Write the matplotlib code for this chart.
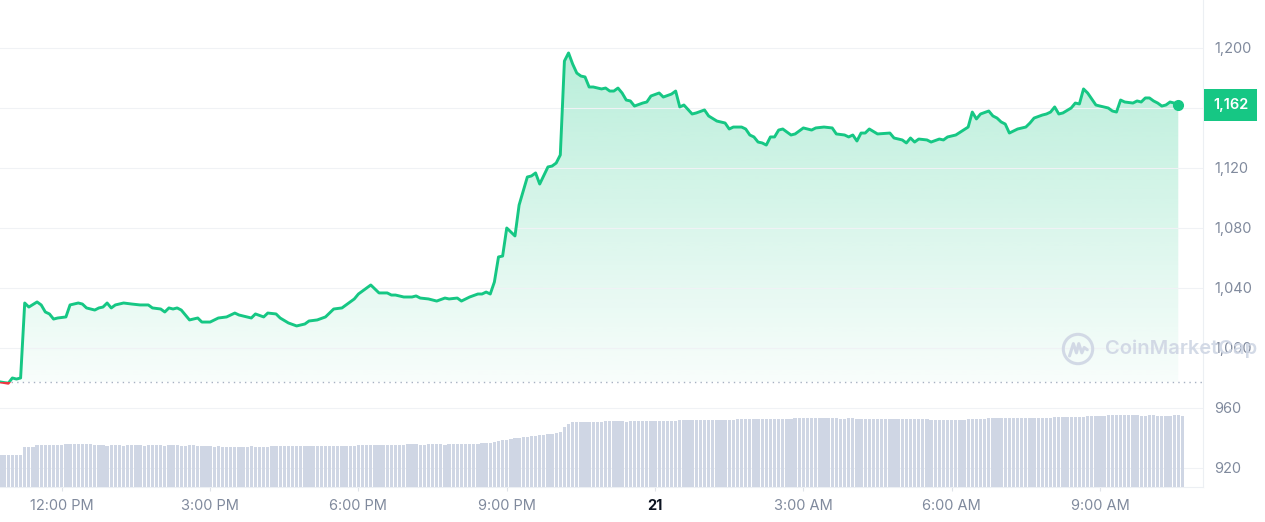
import numpy as np
import pandas as pd
import matplotlib
matplotlib.use("Agg")
import matplotlib.pyplot as plt
import matplotlib.dates as mdates
import matplotlib.transforms as mtransforms
from matplotlib.patches import Rectangle, Circle
from matplotlib.colors import to_rgb

plt.rcParams['font.family'] = ['Inter', 'DejaVu Sans']

GREEN = '#16c784'
RED = '#ea3943'
LABEL = '#808a9d'
GRID = '#f0f2f5'
VOLC = '#cfd6e4'

START_DAY = "2022-06-20"

# price samples (clock time, price)
price_clock = [
    "10:45", "10:55", "11:00", "11:05", "11:10", "11:15", "11:20", "11:30", "11:35", "11:40",
    "11:45", "11:50", "11:55", "12:05", "12:10", "12:20", "12:25", "12:30", "12:40", "12:45",
    "12:50", "12:55", "13:00", "13:05", "13:15", "13:25", "13:35", "13:45", "13:50", "14:00",
    "14:05", "14:10", "14:15", "14:20", "14:25", "14:35", "14:45", "14:50", "15:00", "15:10",
    "15:20", "15:30", "15:35", "15:45", "15:50", "15:55", "16:05", "16:10", "16:20", "16:25",
    "16:35", "16:45", "16:55", "17:00", "17:10", "17:20", "17:30", "17:40", "17:45", "17:55",
    "18:00", "18:15", "18:25", "18:35", "18:40", "18:45", "18:55", "19:05", "19:10", "19:15",
    "19:25", "19:35", "19:45", "19:50", "20:00", "20:05", "20:15", "20:25", "20:30", "20:35",
    "20:40", "20:45", "20:50", "20:55", "21:00", "21:10", "21:15", "21:25", "21:30", "21:35",
    "21:40", "21:50", "21:55", "22:00", "22:05", "22:10", "22:15", "22:20", "22:25", "22:30",
    "22:35", "22:40", "22:45", "22:55", "23:00", "23:05", "23:10", "23:15", "23:20", "23:25",
    "23:30", "23:35", "23:45", "23:50", "23:55", "00:05", "00:10", "00:20", "00:25", "00:30",
    "00:35", "00:45", "00:50", "01:00", "01:05", "01:15", "01:25", "01:30", "01:35", "01:45",
    "01:50", "01:55", "02:00", "02:05", "02:10", "02:15", "02:20", "02:25", "02:30", "02:35",
    "02:45", "02:50", "03:00", "03:10", "03:15", "03:25", "03:35", "03:40", "03:50", "03:55",
    "04:00", "04:05", "04:10", "04:15", "04:20", "04:30", "04:45", "04:50", "05:00", "05:05",
    "05:10", "05:15", "05:20", "05:30", "05:35", "05:45", "05:50", "05:55", "06:05", "06:20",
    "06:25", "06:30", "06:35", "06:45", "06:50", "06:55", "07:00", "07:05", "07:10", "07:20",
    "07:30", "07:35", "07:40", "07:50", "07:55", "08:00", "08:05", "08:10", "08:15", "08:25",
    "08:30", "08:35", "08:40", "08:45", "08:55", "09:00", "09:10", "09:15", "09:20", "09:25",
    "09:30", "09:40", "09:45", "09:50", "09:55", "10:00", "10:05", "10:10", "10:15", "10:20",
    "10:25", "10:30", "10:35",
]
price_values = [
    977.4, 976.5, 980.0, 979.3, 980.0, 1030.0, 1027.3, 1030.7, 1028.7, 1024.0,
    1022.7, 1019.3, 1020.0, 1020.7, 1028.7, 1030.0, 1029.3, 1026.7, 1025.3, 1026.7,
    1027.3, 1030.0, 1026.7, 1028.7, 1030.0, 1029.3, 1028.7, 1028.7, 1026.7, 1026.0,
    1024.0, 1026.7, 1026.0, 1026.7, 1025.3, 1018.7, 1020.0, 1017.3, 1017.3, 1020.0,
    1020.7, 1023.3, 1022.0, 1020.7, 1020.0, 1022.7, 1020.7, 1023.3, 1022.7, 1020.0,
    1016.7, 1014.7, 1016.0, 1018.0, 1018.7, 1020.7, 1026.0, 1026.7, 1028.7, 1032.7,
    1036.0, 1042.0, 1036.7, 1036.7, 1035.3, 1035.3, 1034.0, 1034.0, 1034.7, 1033.3,
    1032.7, 1031.3, 1033.3, 1032.7, 1033.3, 1031.3, 1034.0, 1036.0, 1036.0, 1037.3,
    1036.0, 1044.0, 1060.7, 1061.3, 1080.0, 1074.7, 1095.3, 1114.0, 1114.7, 1116.7,
    1109.3, 1120.7, 1121.3, 1123.3, 1128.7, 1191.3, 1196.7, 1189.3, 1183.3, 1181.3,
    1180.7, 1174.0, 1174.0, 1172.7, 1173.3, 1171.3, 1171.3, 1173.3, 1170.0, 1165.3,
    1164.7, 1161.3, 1163.3, 1164.0, 1168.0, 1170.0, 1167.3, 1169.3, 1171.3, 1160.7,
    1162.0, 1156.0, 1156.7, 1158.7, 1154.7, 1151.3, 1150.0, 1146.0, 1147.3, 1147.3,
    1146.0, 1142.0, 1140.7, 1137.3, 1136.7, 1135.3, 1140.7, 1140.7, 1145.3, 1146.0,
    1142.0, 1142.7, 1146.7, 1145.3, 1146.7, 1147.3, 1146.7, 1142.7, 1142.0, 1140.7,
    1142.0, 1138.0, 1143.3, 1143.3, 1146.0, 1142.7, 1143.3, 1140.0, 1138.7, 1136.7,
    1140.0, 1137.3, 1139.3, 1138.7, 1137.3, 1139.3, 1138.7, 1140.7, 1142.0, 1147.3,
    1157.3, 1152.7, 1156.0, 1158.0, 1154.7, 1153.3, 1150.7, 1149.3, 1143.3, 1146.0,
    1147.3, 1150.0, 1153.3, 1155.3, 1156.0, 1157.3, 1160.7, 1156.0, 1156.7, 1160.0,
    1163.3, 1162.7, 1172.7, 1170.0, 1162.0, 1161.3, 1160.0, 1158.0, 1157.3, 1165.3,
    1164.0, 1163.3, 1164.7, 1164.0, 1166.7, 1166.7, 1164.7, 1163.3, 1161.3, 1162.0,
    1164.0, 1163.3, 1162.0,
]
open_price = 977.4

# 24h volume (bn USD), one bar per 5 minutes starting 10:45
volume_bn = [
    13.3, 13.3, 13.3, 13.3, 13.3, 13.3, 16.7, 16.7, 16.7, 17.5, 17.5, 17.5, 17.5, 17.5, 17.5, 17.5, 17.9, 17.9, 17.9, 17.9, 17.9, 17.9, 17.9, 17.5,
    17.3, 17.3, 17.1, 17.3, 17.3, 17.3, 17.1, 17.3, 17.3, 17.3, 17.3, 17.1, 17.3, 17.3, 17.3, 17.3, 17.1, 17.3, 17.3, 17.3, 17.1, 17.1, 17.3, 17.3,
    17.1, 17.1, 17.1, 17.1, 16.7, 16.9, 16.7, 16.7, 16.7, 16.7, 16.7, 16.7, 16.7, 16.9, 16.7, 16.7, 16.7, 16.7, 16.9, 16.9, 17.1, 17.1, 17.1, 17.1,
    17.1, 17.1, 17.1, 17.1, 17.1, 17.1, 17.1, 17.1, 17.1, 17.1, 17.1, 17.1, 17.1, 17.1, 17.1, 17.5, 17.7, 17.7, 17.7, 17.7, 17.7, 17.7, 17.7, 17.7,
    17.7, 17.7, 17.7, 17.9, 17.9, 17.9, 17.7, 17.7, 17.9, 17.9, 17.9, 17.9, 17.7, 17.9, 17.9, 17.9, 17.9, 18.1, 17.9, 18.1, 18.1, 18.3, 18.3, 18.5,
    18.8, 19.2, 19.6, 19.6, 20.0, 20.4, 20.4, 20.8, 20.8, 21.3, 21.3, 21.7, 21.7, 22.1, 22.1, 22.5, 22.9, 25.0, 26.3, 27.1, 27.1, 27.1, 27.1, 27.3,
    27.3, 27.3, 27.3, 27.5, 27.5, 27.5, 27.5, 27.5, 27.3, 27.5, 27.5, 27.5, 27.7, 27.7, 27.5, 27.5, 27.7, 27.7, 27.7, 27.7, 27.7, 27.9, 27.9, 27.9,
    27.9, 27.9, 28.1, 27.9, 28.1, 28.1, 28.1, 28.1, 28.1, 28.1, 28.1, 28.3, 28.3, 28.3, 28.3, 28.3, 28.3, 28.3, 28.3, 28.3, 28.3, 28.3, 28.3, 28.3,
    28.5, 28.7, 28.7, 28.7, 28.7, 28.7, 28.7, 28.7, 28.7, 28.7, 28.7, 28.7, 28.5, 28.5, 28.7, 28.7, 28.5, 28.5, 28.5, 28.3, 28.3, 28.3, 28.3, 28.2,
    28.2, 28.2, 28.2, 28.2, 28.2, 28.2, 28.2, 28.2, 28.2, 28.2, 27.8, 27.8, 27.8, 27.8, 27.8, 27.8, 27.8, 27.8, 27.8, 28.2, 28.2, 28.2, 28.2, 28.2,
    28.7, 28.7, 28.7, 28.7, 28.7, 28.7, 28.7, 28.9, 28.9, 28.9, 28.9, 28.9, 28.9, 28.9, 28.9, 28.9, 29.3, 29.3, 29.3, 29.3, 29.3, 29.3, 29.3, 29.3,
    29.8, 29.8, 29.8, 29.8, 29.8, 30.1, 30.1, 30.1, 30.1, 30.1, 30.1, 30.1, 30.1, 29.6, 29.6, 30.1, 30.1, 29.6, 29.6, 29.6, 29.6, 30.1, 30.1, 29.8,
]

price_ticks = [920, 960, 1000, 1040, 1080, 1120, 1160, 1200]
x_tick_clock = ["12:00", "15:00", "18:00", "21:00", "00:00", "03:00", "06:00", "09:00"]
x_tick_labels = ["12:00 PM", "3:00 PM", "6:00 PM", "9:00 PM", "21", "3:00 AM", "6:00 AM", "9:00 AM"]


def clock_to_dates(clock, day=START_DAY):
    # clock strings roll over to the next day after midnight
    d = pd.Timestamp(day)
    out, prev = [], None
    for c in clock:
        t = pd.Timestamp(f"{d.date()} {c}")
        if prev is not None and t < prev:
            d += pd.Timedelta(days=1)
            t += pd.Timedelta(days=1)
        out.append(t)
        prev = t
    return out


t_price = mdates.date2num(clock_to_dates(price_clock))
price = np.array(price_values)
t_vol = mdates.date2num(pd.date_range(f"{START_DAY} 10:45", periods=len(volume_bn), freq="5min"))
t_ticks = mdates.date2num(clock_to_dates(["10:45"] + x_tick_clock))[1:]
step = 5 / 1440

fig = plt.figure(figsize=(12.65, 5.22), dpi=100)
ax = fig.add_axes([0, 35 / 522, 1203 / 1265, 487 / 522])
ax.patch.set_facecolor('white')

# volume bars on a twin axis (created first, twinx moves the ticks)
axv = ax.twinx()
axv.bar(t_vol, volume_bn, width=step * 0.8, color=VOLC, zorder=2)
axv.set_ylim(0, 203)
axv.axis('off')

# gradient area between line and opening price
fill = ax.fill_between(t_price, price, open_price, facecolor='none', edgecolor='none')
grad = np.linspace(0, 1, 256).reshape(-1, 1)
rgba = np.zeros((256, 1, 4))
rgba[..., :3] = to_rgb(GREEN)
rgba[..., 3] = 0.03 + 0.27 * grad
img = ax.imshow(rgba, extent=[t_price[0], t_price[-1], open_price, price.max()],
                origin='lower', aspect='auto', zorder=1, interpolation='bilinear')
img.set_clip_path(fill.get_paths()[0], transform=ax.transData)

# price line: green above open, red below
ln_up, = ax.plot(t_price, price, color=GREEN, lw=2.1, zorder=4, solid_joinstyle='round')
ln_dn, = ax.plot(t_price, price, color=RED, lw=2.1, zorder=4, solid_joinstyle='round')
ln_up.set_clip_path(Rectangle((t_price[0] - 1, open_price), 3, 1000, transform=ax.transData))
ln_dn.set_clip_path(Rectangle((t_price[0] - 1, open_price - 1000), 3, 1000, transform=ax.transData))
ax.plot(t_price[-1], price[-1], 'o', ms=7, color=GREEN, zorder=5, clip_on=False)

ax.axhline(open_price, color='#a7b1c2', lw=1, ls=(0, (1, 3)), zorder=3)

ax.set_xlim(t_price[0], t_price[0] + 1460 / 1440)
axv.set_xlim(ax.get_xlim())
ax.set_ylim(907.33, 1232)

last = price[-1]
ax.yaxis.tick_right()
ax.set_yticks(price_ticks)
# the tick hidden behind the current-price tag gets no label
ax.yaxis.set_major_formatter(plt.FuncFormatter(
    lambda v, p: "" if abs(v - last) < 10 else f"{v:,.0f}"))
ax.tick_params(axis='y', left=False, labelleft=False, right=True, labelright=True,
               length=0, pad=8, labelsize=10.5, labelcolor=LABEL)
ax.grid(axis='y', color=GRID, lw=0.8, zorder=0)

ax.set_xticks(t_ticks)
ax.set_xticklabels(x_tick_labels)
ax.tick_params(axis='x', length=3, width=0.8, color='#dfe3e9', pad=6, labelsize=10.5, labelcolor=LABEL)
for lab in ax.get_xticklabels():
    if lab.get_text() == "21":
        lab.set_fontweight('bold')
        lab.set_color('#0d1421')

for side in ['top', 'left']:
    ax.spines[side].set_visible(False)
for side in ['bottom', 'right']:
    ax.spines[side].set_color('#eceff3')
    ax.spines[side].set_linewidth(0.8)

# current price tag
off = mtransforms.ScaledTranslation(10 / 100, 0, fig.dpi_scale_trans)
tr = mtransforms.blended_transform_factory(ax.transAxes, ax.transData) + off
ax.text(1.0, last, f"{last:,.0f}", transform=tr, ha='left', va='center',
        fontsize=10.5, fontweight='semibold', color='white', zorder=10, clip_on=False,
        bbox=dict(boxstyle='square,pad=0.62', fc=GREEN, ec='none'))

# watermark
fig.text(1105 / 1265, 1 - 349 / 522, "CoinMarketCap", fontsize=14.5, fontweight='semibold',
         color=VOLC, va='center', ha='left', alpha=0.9, zorder=20)
lax = fig.add_axes([1061 / 1265, 1 - 366 / 522, 34 / 1265, 34 / 522])
lax.set_xlim(-1.1, 1.1)
lax.set_ylim(-1.1, 1.1)
lax.set_aspect('equal')
lax.axis('off')
lax.add_patch(Circle((0, 0), 0.95, fill=False, ec=VOLC, lw=2.2, alpha=0.9))
lax.plot([-0.55, -0.3, -0.1, 0.05, 0.25, 0.4, 0.6], [-0.45, 0.35, -0.25, 0.35, -0.25, 0.1, -0.05],
         color=VOLC, lw=2.2, alpha=0.9, solid_joinstyle='round', solid_capstyle='round')
lax.set_zorder(20)

fig.savefig("out.png", dpi=100, facecolor='white')
